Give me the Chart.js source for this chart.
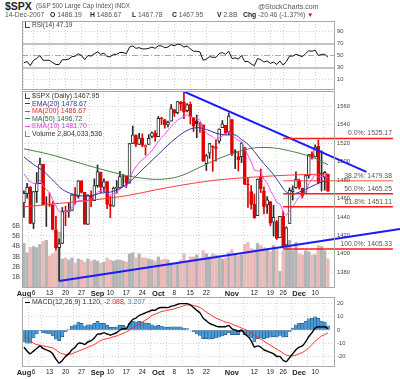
<!DOCTYPE html>
<html><head><meta charset="utf-8">
<script src="https://cdn.jsdelivr.net/npm/chart.js@4.4.1/dist/chart.umd.min.js"></script>
<style>
html,body{margin:0;padding:0;background:#fff;}
#wrap{position:relative;width:400px;height:379px;overflow:hidden;font-family:"Liberation Sans",Arial,sans-serif;color:#333;}
canvas{position:absolute;left:0;}
.t{position:absolute;white-space:nowrap;line-height:1;}
.ln{display:inline-block;width:5px;height:0;border-top:1.5px solid #000;vertical-align:middle;margin-right:2px;}
.ic{display:inline-block;width:4px;height:5px;border-left:1px solid #444;border-bottom:1px solid #444;vertical-align:middle;margin-right:2px;}
</style></head><body><div id="wrap">
<canvas id="rsiC" width="400" height="69" style="top:21px"></canvas>
<canvas id="mainC" width="400" height="209" style="top:91px"></canvas>
<canvas id="macdC" width="400" height="82" style="top:297px"></canvas>

<div class="t" style="left:5px;top:1px;font-size:10.5px;font-weight:bold;color:#222">$SPX</div>
<div class="t" style="left:36px;top:2.5px;font-size:6.3px;color:#555">(S&amp;P 500 Large Cap Index) INDX</div>
<div class="t" style="left:258px;top:3px;font-size:7px;color:#555">@StockCharts.com</div>
<div class="t" style="left:5px;top:12px;font-size:6.8px;color:#555">14-Dec-2007</div>
<div class="t" style="left:50px;top:12px;font-size:6.8px;color:#555"><b style="color:#222">O</b> 1486.19</div>
<div class="t" style="left:90px;top:12px;font-size:6.8px;color:#555"><b style="color:#222">H</b> 1486.67</div>
<div class="t" style="left:132px;top:12px;font-size:6.8px;color:#555"><b style="color:#222">L</b> 1467.78</div>
<div class="t" style="left:172px;top:12px;font-size:6.8px;color:#555"><b style="color:#222">C</b> 1467.95</div>
<div class="t" style="left:217px;top:12px;font-size:6.8px;color:#555"><b style="color:#222">V</b> 2.8B</div>
<div class="t" style="left:243px;top:12px;font-size:6.8px;color:#555"><b style="color:#222">Chg</b> -20.46 (-1.37%) <span style="color:#e00000;font-size:6px">▼</span></div>

<div class="t" style="left:25px;top:22px;font-size:6.5px;color:#444"><span class="ic"></span>RSI(14) 47.19</div>

<div class="t" style="left:25px;top:92px;font-size:7px;color:#333"><span class="ic"></span>$SPX (Daily) 1467.95</div>
<div class="t" style="left:25px;top:99.5px;font-size:7px;color:#333399"><span class="ln" style="border-color:#333399"></span>EMA(20) 1478.67</div>
<div class="t" style="left:25px;top:107px;font-size:7px;color:#ee2222"><span class="ln" style="border-color:#ff3333"></span>MA(200) 1486.67</div>
<div class="t" style="left:25px;top:114.5px;font-size:7px;color:#3a5a3a"><span class="ln" style="border-color:#4a7f44"></span>MA(50) 1496.72</div>
<div class="t" style="left:25px;top:122px;font-size:7px;color:#ee33ee"><span class="ln" style="border-color:#ff44ff"></span>EMA(10) 1481.70</div>
<div class="t" style="left:25px;top:129.5px;font-size:7px;color:#333"><span class="ic" style="border-color:#888"></span>Volume 2,804,033,536</div>

<div class="t" style="left:25px;top:298px;font-size:7px;color:#333"><span class="ln" style="border-color:#000"></span>MACD(12,26,9) 1.120, <span style="color:#e02020">-2.088,</span> <span style="color:#3b7fc4">3.207</span></div>
</div>
<script>
const FF = '"Liberation Sans", Arial, sans-serif';

const dates = ['Aug 1','Aug 2','Aug 3','Aug 6','Aug 7','Aug 8','Aug 9','Aug 10','Aug 13','Aug 14','Aug 15','Aug 16','Aug 17','Aug 20','Aug 21','Aug 22','Aug 23','Aug 24','Aug 27','Aug 28','Aug 29','Aug 30','Aug 31',
'Sep 4','Sep 5','Sep 6','Sep 7','Sep 10','Sep 11','Sep 12','Sep 13','Sep 14','Sep 17','Sep 18','Sep 19','Sep 20','Sep 21','Sep 24','Sep 25','Sep 26','Sep 27','Sep 28',
'Oct 1','Oct 2','Oct 3','Oct 4','Oct 5','Oct 8','Oct 9','Oct 10','Oct 11','Oct 12','Oct 15','Oct 16','Oct 17','Oct 18','Oct 19','Oct 22','Oct 23','Oct 24','Oct 25','Oct 26','Oct 29','Oct 30','Oct 31',
'Nov 1','Nov 2','Nov 5','Nov 6','Nov 7','Nov 8','Nov 9','Nov 12','Nov 13','Nov 14','Nov 15','Nov 16','Nov 19','Nov 20','Nov 21','Nov 23','Nov 26','Nov 27','Nov 28','Nov 29','Nov 30',
'Dec 3','Dec 4','Dec 5','Dec 6','Dec 7','Dec 10','Dec 11','Dec 12','Dec 13','Dec 14'];

const prevClose0 = 1455.27;
const open = [1455.18,1465.46,1472.18,1433.04,1467.62,1476.22,1497.21,1453.09,1453.42,1452.87,1426.15,1406.64,1411.26,1445.55,1445.55,1447.03,1464.05,1462.34,1479.36,1466.72,1432.01,1463.67,1457.61,
1473.96,1488.76,1472.03,1478.55,1453.50,1451.69,1471.10,1471.47,1483.95,1484.24,1476.63,1519.75,1528.69,1518.75,1525.75,1516.34,1518.62,1527.32,1531.24,
1527.29,1546.96,1545.80,1539.91,1543.84,1556.51,1553.18,1564.98,1564.72,1555.41,1562.25,1547.81,1544.44,1539.29,1540.00,1497.79,1509.30,1516.61,1516.15,1522.17,1536.92,1539.42,1532.15,
1545.79,1511.07,1505.61,1505.33,1515.46,1475.27,1467.59,1453.66,1441.35,1483.40,1468.04,1453.09,1456.70,1434.51,1434.71,1417.62,1440.74,1409.59,1432.95,1467.41,1471.83,
1479.63,1471.34,1465.22,1484.59,1508.60,1505.11,1516.68,1487.58,1483.27,1486.19];
const high = [1468.38,1476.43,1473.23,1467.67,1488.30,1503.89,1497.21,1462.02,1466.29,1456.74,1440.78,1415.97,1450.33,1451.75,1455.32,1464.86,1472.06,1479.40,1479.36,1466.72,1464.21,1468.43,1481.47,
1496.40,1488.76,1481.49,1478.55,1462.25,1472.48,1479.50,1489.58,1485.99,1484.24,1519.89,1538.74,1529.14,1530.89,1530.18,1518.27,1529.39,1532.46,1533.74,
1549.02,1548.01,1545.84,1544.02,1561.91,1556.51,1565.26,1565.42,1576.09,1563.03,1564.74,1547.81,1550.66,1542.79,1540.00,1508.06,1520.01,1517.23,1523.24,1535.53,1544.67,1539.42,1552.76,
1545.79,1513.15,1510.84,1520.77,1515.46,1482.50,1474.09,1464.94,1481.37,1492.14,1472.67,1462.18,1456.70,1452.64,1436.40,1440.86,1446.09,1429.49,1471.62,1473.81,1488.94,
1481.16,1471.34,1486.09,1508.02,1510.63,1518.27,1523.57,1511.96,1489.40,1486.67];
const low = [1439.59,1460.58,1432.80,1427.39,1455.80,1476.22,1453.09,1429.74,1451.54,1426.20,1404.36,1370.60,1411.26,1430.54,1439.76,1447.03,1453.88,1460.54,1465.98,1432.01,1432.01,1451.25,1457.61,
1472.15,1466.34,1467.41,1449.07,1439.29,1451.69,1465.75,1471.47,1473.18,1471.82,1476.63,1519.75,1516.42,1518.75,1516.15,1507.13,1518.62,1525.81,1521.99,
1527.25,1540.37,1536.34,1537.63,1543.84,1549.00,1551.82,1555.46,1546.72,1554.09,1540.81,1532.74,1526.01,1531.76,1500.26,1490.40,1503.61,1489.56,1500.46,1520.18,1536.92,1529.55,1529.40,
1506.66,1492.53,1489.95,1499.07,1475.04,1450.31,1448.51,1438.53,1441.35,1466.47,1443.49,1443.99,1430.42,1419.28,1415.64,1417.62,1406.10,1407.43,1432.95,1458.36,1470.89,
1470.08,1460.66,1465.22,1482.19,1502.66,1504.96,1475.99,1468.23,1469.21,1467.78];
const close = [1465.81,1472.20,1433.06,1467.67,1476.71,1497.49,1453.09,1453.64,1452.92,1426.54,1406.70,1411.27,1445.94,1445.55,1447.12,1464.07,1462.50,1479.37,1466.79,1432.36,1463.76,1457.64,1473.99,
1489.42,1472.29,1478.55,1453.55,1451.70,1471.49,1471.56,1483.95,1484.25,1476.65,1519.78,1529.03,1518.75,1525.75,1517.73,1517.21,1525.42,1531.38,1526.75,
1547.04,1546.63,1539.59,1542.84,1557.59,1552.58,1565.15,1562.47,1554.41,1561.80,1548.71,1538.53,1541.24,1540.08,1500.63,1506.33,1519.59,1515.88,1514.40,1535.28,1540.98,1531.02,1549.38,
1508.44,1509.65,1502.17,1520.27,1475.62,1474.77,1453.70,1439.18,1481.05,1470.58,1451.15,1458.74,1433.27,1439.70,1416.77,1440.70,1407.22,1428.23,1469.02,1469.72,1481.14,
1472.42,1462.79,1485.01,1507.34,1504.66,1515.96,1477.65,1486.59,1488.41,1467.95];
// volume in billions
const volume = [4.3,3.4,3.9,4.0,3.9,4.2,4.5,4.6,3.1,3.3,3.6,5.4,2.8,2.9,2.7,2.9,2.4,2.8,2.7,2.5,2.8,2.6,2.7,
2.6,2.4,2.5,2.9,2.7,2.6,2.7,2.7,2.6,2.5,3.3,3.4,2.9,3.3,2.9,2.9,2.8,2.7,2.6,
3.0,2.7,2.8,2.7,2.4,2.3,2.5,2.7,3.3,2.6,3.0,3.0,3.2,2.9,3.6,3.3,3.0,3.3,3.2,3.1,2.8,2.9,3.4,
3.7,3.3,3.1,3.2,4.2,4.4,3.8,3.7,4.3,4.1,3.9,3.8,3.5,4.1,3.9,1.6,3.6,4.0,4.6,3.6,4.4,
3.3,3.2,3.6,3.5,3.2,3.2,4.1,4.0,3.6,2.8];

const rsi = [38,40,33,42,45,50,42,42,42,38,35,35,43,43,44,48,49,53,50,43,50,49,53,
56,52,54,48,48,52,52,55,55,53,64,66,62,63,61,61,62,64,62,
66,66,63,64,68,66,69,68,64,66,61,57,57,56,42,44,48,47,47,53,55,52,57,
45,46,44,50,40,40,36,33,45,43,39,41,37,39,35,41,34,40,49,49,52,
50,48,53,58,57,59,50,52,52,47.19];

const macdLine = [-13,-16,-18,-16,-14,-12,-14,-15,-16,-18,-22,-25,-23,-20,-18,-15,-13,-10,-10,-11,-9,-8,-6,
-3,-3,-2,-3,-4,-3,-2,0,1,1,5,8,9,11,12,13,14,15,15,
16.5,17,17,17,18,18.5,19.5,20,20,20,19,17,15,13,9,7,5,4,3,2.5,2.5,2.5,3.5,
1,0,-1,0,-3,-5,-8,-13,-12,-13,-15,-16,-17,-18,-20,-20,-23,-24,-21,-18,-15,
-13,-12,-9,-5,-2,1.5,2.5,2.3,2.5,1.12];
const macdSignal = [-4,-6,-8,-10,-11,-11.5,-12,-12.5,-13,-13.5,-15,-17,-18,-18.5,-18.5,-18,-17,-16,-15,-14,-13,-12,-11,
-9.5,-8,-7,-6.5,-6,-5,-4.5,-3.5,-2.5,-1.5,0,1.5,3,4.5,6,7.5,9,11,12,
13,14,14.5,15,15.5,16,17,17.5,18.5,19,19,18.5,18,17,15.5,13.5,12,10.5,9,8,7,6,5.5,
4.5,3.5,2.5,1.5,0.5,-0.5,-2,-4,-5.5,-7,-8.5,-10,-11.5,-13,-14.5,-16,-17.5,-19,-19.5,-19.5,-19,
-18,-17,-15.5,-13.5,-11,-8.5,-6.5,-4.5,-3.5,-2.088];
const macdHist = [-9,-10,-10,-6,-3,-0.5,-2,-2.5,-3,-4.5,-7,-8,-5,-1.5,0.5,3,4,6,5,3,4,4,5,
6.5,5,5,3.5,2,2,2.5,3.5,3.5,2.5,5,6.5,6,6.5,6,5.5,5,4,3,
3.5,3,2.5,2,2.5,2.5,2.5,2.5,1.5,1,0,-1.5,-3,-4,-6.5,-6.5,-7,-6.5,-6,-5.5,-4.5,-3.5,-2,
-3.5,-3.5,-3.5,-1.5,-3.5,-4.5,-6,-9,-6.5,-6,-6.5,-6,-5.5,-5,-5.5,-4,-5.5,-5,-1.5,1.5,4,
5,5,6.5,8.5,9,10,9,6.8,6,3.207];

// overlays: [day index, value]
const ema20 = [[0,1505],[3,1497],[6,1490],[9,1480],[12,1470],[15,1465],[18,1463],[21,1463],[24,1466],[27,1467],[30,1471],[33,1478],[36,1488],[39,1498],[42,1508],[45,1518],[48,1527],[51,1534],[54,1537],[57,1535],[60,1531],[63,1529],[66,1529],[68,1524],[70,1519],[72,1511],[74,1502],[76,1494],[78,1486],[80,1476],[82,1467],[84,1465],[86,1467],[88,1470],[91,1475],[93,1478],[95,1478.67]];
const ema10 = [[0,1487],[2,1478],[4,1476],[5,1480],[6,1474],[8,1466],[9,1459],[10,1452],[11,1446],[12,1448],[13,1446],[15,1450],[17,1458],[19,1457],[21,1460],[23,1467],[25,1469],[26,1466],[27,1464],[29,1467],[31,1473],[32,1473],[33,1480],[34,1489],[36,1499],[38,1505],[40,1512],[42,1522],[44,1530],[46,1538],[48,1545],[50,1549],[51,1551],[52,1549],[54,1547],[55,1545],[56,1537],[57,1531],[59,1527],[60,1524],[62,1528],[64,1532],[65,1529],[67,1523],[68,1522],[69,1514],[71,1500],[72,1491],[73,1490],[74,1489],[75,1481],[76,1477],[77,1469],[78,1463],[79,1456],[80,1454],[81,1446],[82,1442],[83,1447],[84,1451],[85,1457],[86,1462],[87,1463],[88,1467],[89,1476],[90,1481],[91,1486],[92,1483],[93,1484],[94,1486],[95,1481.70]];
const ma50 = [[0,1514],[8,1508],[16,1500],[24,1492],[32,1485],[40,1481],[46,1482],[50,1486],[55,1494],[60,1502],[66,1510],[72,1515],[78,1515],[84,1511],[90,1505],[95,1496.72]];
const ma200 = [[0,1451],[30,1462],[45,1472],[60,1480],[80,1485],[95,1486.67]];

const fibLevels = [1525.17,1479.38,1465.25,1451.11,1405.33];
const fibNames = ['0.0%','38.2%','50.0%','61.8%','100.0%'];
const fibSpan = [81,115.3];
const downTrend = [[50,1576.09],[107,1489]];
const upTrend = [[11,1370.6],[117.5,1427]];

const tickDates = ['Aug 1','Aug 6','Aug 13','Aug 20','Aug 27','Sep 4','Sep 10','Sep 17','Sep 24','Oct 1','Oct 8','Oct 15','Oct 22','Nov 1','Nov 12','Nov 19','Nov 26','Dec 3','Dec 10'];
const tickText = ['Aug','6','13','20','27','Sep','10','17','24','Oct','8','15','22','Nov','12','19','26','Dec','10'];
const monthTicks = ['Aug','Sep','Oct','Nov','Dec'];
const priceTicks = [1380,1400,1420,1440,1460,1480,1500,1520,1540,1560];
const volTicks = [1,2,3,4,5,6];
const rsiTicks = [10,30,50,70,90];
const macdTicks = [-20,-10,0,10,20];

const tickIdx = tickDates.map(d => dates.indexOf(d));
const X_MIN = -0.6, X_MAX = 97.2;
const GRID = '#d2d2d2';

const pts = arr => arr.map(p => ({x:p[0], y:p[1]}));
const series = arr => arr.map((v,i) => ({x:i, y:v}));
const prevOf = i => i === 0 ? prevClose0 : close[i-1];
const edgeCol = close.map((c,i) => c < prevOf(i) ? '#e00000' : '#2a2a2a');
const bodyFill = close.map((c,i) => c < open[i] ? edgeCol[i] : '#ffffff');
const volCol = close.map((c,i) => c < prevOf(i) ? '#ecb8b8' : '#b4b4b4');

const frame = {id:'frame', afterDraw(c){const a=c.chartArea,x=c.ctx;x.save();x.strokeStyle='#a8a8a8';x.lineWidth=1;
  x.strokeRect(Math.round(a.left)+0.5,Math.round(a.top)+0.5,Math.round(a.right-a.left)-1,Math.round(a.bottom-a.top)-1);x.restore();}};

function xScale(showLabels){
  return {type:'linear', min:X_MIN, max:X_MAX, offset:false,
    afterBuildTicks: s => { s.ticks = tickIdx.map(v => ({value:v})); },
    ticks:{display:showLabels, autoSkip:false, maxRotation:0, padding:1, color:'#222',
      callback: v => tickText[tickIdx.indexOf(v)],
      font: ctx => { const k = ctx.tick ? tickIdx.indexOf(ctx.tick.value) : -1;
        return (k>=0 && monthTicks.includes(tickText[k])) ? {family:FF,size:7.5,weight:'bold'} : {family:FF,size:6.5}; }},
    grid:{color:GRID, drawTicks:false}, border:{display:false, dash:[1,2]},
    afterFit: s => { s.height = showLabels ? 12 : 0; s.paddingLeft = 0; s.paddingRight = 0; }};
}
function yRight(min,max,ticks,extra){
  return Object.assign({position:'right', min, max,
    afterBuildTicks: s => { s.ticks = ticks.map(v => ({value:v})); },
    ticks:{padding:2, color:'#444', font:{family:FF,size:5.8}, callback: v => String(v)},
    grid:{color:GRID, drawTicks:false}, border:{display:false, dash:[1,2]},
    afterFit: s => { s.width = 65; s.paddingTop = 0; s.paddingBottom = 0; }}, extra||{});
}
const common = {responsive:false, animation:false, devicePixelRatio:1, events:[],
  plugins:{legend:{display:false}, tooltip:{enabled:false}}};

// RSI
new Chart(document.getElementById('rsiC'), {
  type:'line',
  data:{datasets:[{data:series(rsi), borderColor:'#111', borderWidth:1, pointRadius:0, tension:0}]},
  options:Object.assign({}, common, {layout:{padding:{left:22,top:0,bottom:0,right:0}},
    scales:{x:xScale(false),
      y:yRight(-7.5,107.5,rsiTicks,{
        grid:{drawTicks:false,
          color: c => (c.tick && (c.tick.value===30||c.tick.value===70)) ? '#c4c4c4' : (c.tick && c.tick.value===50 ? '#a8a8a8' : GRID),
          lineWidth: c => (c.tick && (c.tick.value===30||c.tick.value===70)) ? 2 : 1},
        border:{display:false, dash: c => (c.tick && (c.tick.value===30||c.tick.value===70)) ? [] : (c.tick && c.tick.value===50 ? [6,2,1,2] : [1,2])}
      })}}),
  plugins:[frame]
});

// Price + volume
const fibSets = fibLevels.map((v,k) => ({type:'line', data:[{x:fibSpan[0],y:v},{x:fibSpan[1],y:v}], yAxisID:'y',
  borderColor: k===1 ? 'rgba(255,40,40,0.55)' : '#ff1a1a', borderWidth:1.6, pointRadius:0, clip:false, order:1}));
const fibText = {id:'fibText', afterDatasetsDraw(c){const y=c.scales.y,x=c.scales.x,ctx=c.ctx;ctx.save();
  ctx.font='6.8px '+FF;ctx.fillStyle='#555';ctx.textAlign='right';ctx.textBaseline='bottom';
  fibLevels.forEach((v,k)=>ctx.fillText(fibNames[k]+': '+v.toFixed(2), x.getPixelForValue(fibSpan[1])-1, y.getPixelForValue(v)-1.5));
  ctx.restore();}};

new Chart(document.getElementById('mainC'), {
  type:'bar',
  data:{datasets:[
    {type:'bar', data:series(volume), yAxisID:'v', backgroundColor:volCol, barThickness:2.6, grouped:false, order:10},
    {type:'bar', data:low.map((l,i)=>({x:i,y:[l,high[i]]})), yAxisID:'y', backgroundColor:edgeCol, barThickness:1, grouped:false, order:6},
    {type:'bar', data:open.map((o,i)=>({x:i,y:[o,close[i]]})), yAxisID:'y', backgroundColor:bodyFill, borderColor:edgeCol, borderWidth:1, borderSkipped:false, minBarLength:1, barThickness:3, grouped:false, order:5},
    {type:'line', data:pts(ma200), yAxisID:'y', borderColor:'#ff3b3b', borderWidth:1, pointRadius:0, tension:0.3, order:3},
    {type:'line', data:pts(ma50), yAxisID:'y', borderColor:'#4a7f44', borderWidth:1, pointRadius:0, tension:0.3, order:3},
    {type:'line', data:pts(ema20), yAxisID:'y', borderColor:'#333399', borderWidth:1, pointRadius:0, tension:0.3, order:3},
    {type:'line', data:pts(ema10), yAxisID:'y', borderColor:'#ff40ff', borderWidth:1, pointRadius:0, tension:0.2, order:3},
    ...fibSets,
    {type:'line', data:pts(downTrend), yAxisID:'y', borderColor:'#1a1aff', borderWidth:2, pointRadius:0, clip:false, order:1},
    {type:'line', data:pts(upTrend), yAxisID:'y', borderColor:'#1a1aff', borderWidth:2, pointRadius:0, clip:false, order:1}
  ]},
  options:Object.assign({}, common, {layout:{padding:0},
    scales:{x:xScale(true),
      y:yRight(1363.0,1576.7,priceTicks),
      v:{position:'left', min:0, max:19,
        afterBuildTicks: s => { s.ticks = volTicks.map(v => ({value:v})); },
        ticks:{padding:2, color:'#444', font:{family:FF,size:6.3}, callback: v => v+'B'},
        grid:{drawOnChartArea:false, drawTicks:false}, border:{display:false},
        afterFit: s => { s.width = 22; s.paddingTop = 0; s.paddingBottom = 0; }}}}),
  plugins:[frame, fibText]
});

// MACD
new Chart(document.getElementById('macdC'), {
  type:'bar',
  data:{datasets:[
    {type:'bar', data:series(macdHist), backgroundColor:'#4d9bd4', borderColor:'#235a8a', borderWidth:0.6, borderSkipped:false, barThickness:3.2, grouped:false, order:5},
    {type:'line', data:series(macdSignal), borderColor:'#ff2a2a', borderWidth:1, pointRadius:0, tension:0.2, order:2},
    {type:'line', data:series(macdLine), borderColor:'#000', borderWidth:1.4, pointRadius:0, tension:0.1, order:1}
  ]},
  options:Object.assign({}, common, {layout:{padding:{left:22,top:0,right:0,bottom:0}},
    scales:{x:xScale(true), y:yRight(-28,25,macdTicks)}}),
  plugins:[frame]
});
</script>
</body></html>
